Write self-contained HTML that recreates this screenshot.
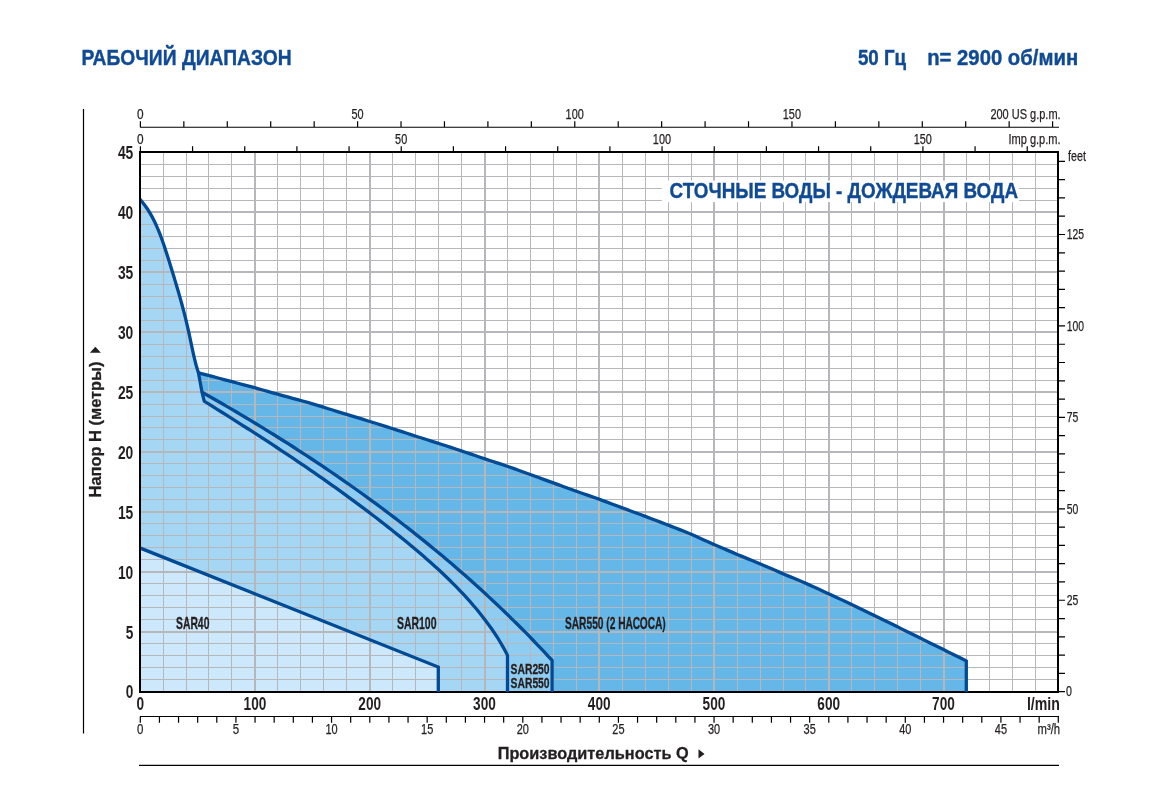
<!DOCTYPE html>
<html lang="ru"><head><meta charset="utf-8"><title>Рабочий диапазон</title>
<style>html,body{margin:0;padding:0;background:#fff}body{width:1167px;height:793px;overflow:hidden}svg{display:block}text{font-family:"Liberation Sans",sans-serif}</style>
</head><body>
<svg width="1167" height="793" viewBox="0 0 1167 793">
<rect width="1167" height="793" fill="#fff"/>
<clipPath id="plot"><rect x="141" y="152" width="917" height="540.8"/></clipPath>
<path d="M202 392.2L202 392.2L206.88 394.95L211.75 397.72L216.61 400.5L221.46 403.29L226.31 406.1L231.15 408.93L235.98 411.77L240.81 414.62L245.63 417.49L250.43 420.37L255.23 423.27L260.03 426.18L264.81 429.11L269.58 432.05L274.35 435.01L279.1 437.99L283.85 440.98L288.58 443.98L293.31 447L298.02 450.04L302.73 453.09L307.42 456.16L312.11 459.25L316.78 462.35L321.45 465.47L326.1 468.6L330.74 471.75L335.37 474.92L339.99 478.1L344.59 481.3L349.18 484.52L353.77 487.75L358.34 491L362.89 494.27L367.44 497.55L371.97 500.86L376.48 504.18L380.99 507.51L385.48 510.87L389.96 514.24L394.42 517.63L398.87 521.03L403.31 524.46L407.73 527.9L412.14 531.36L416.53 534.84L420.91 538.34L425.27 541.86L429.62 545.39L433.95 548.94L438.27 552.51L442.57 556.1L446.85 559.71L451.12 563.34L455.37 566.99L459.61 570.65L463.83 574.34L468.03 578.04L472.22 581.76L476.39 585.5L480.54 589.27L484.67 593.05L488.79 596.85L492.89 600.67L496.97 604.51L501.03 608.37L505.07 612.25L509.1 616.15L513.1 620.07L517.09 624.01L521.06 627.97L525.01 631.95L528.94 635.95L532.85 639.98L536.74 644.02L540.61 648.08L544.46 652.17L548.29 656.27L552.1 660.4L552.1 692L507.5 692L507.5 655.3L505.16 650.8L502.7 646.37L500.15 642L497.5 637.71L494.76 633.48L491.93 629.31L489.02 625.2L486.03 621.15L482.97 617.15L479.85 613.2L476.66 609.31L473.41 605.46L470.1 601.66L466.74 597.91L463.33 594.2L459.87 590.53L456.37 586.9L452.81 583.32L449.22 579.77L445.59 576.25L441.91 572.77L438.21 569.33L434.47 565.91L430.69 562.53L426.89 559.17L423.07 555.84L419.22 552.54L415.35 549.26L411.46 546.01L407.55 542.77L403.63 539.56L399.7 536.36L395.75 533.18L391.79 530.02L387.82 526.87L383.84 523.75L379.84 520.64L375.84 517.55L371.82 514.47L367.8 511.41L363.76 508.36L359.71 505.33L355.65 502.32L351.58 499.32L347.5 496.33L343.42 493.36L339.32 490.4L335.21 487.46L331.09 484.53L326.97 481.61L322.83 478.7L318.69 475.81L314.54 472.93L310.38 470.06L306.21 467.2L302.04 464.36L297.85 461.52L293.66 458.7L289.47 455.88L285.26 453.08L281.05 450.28L276.83 447.5L272.61 444.72L268.38 441.96L264.14 439.2L259.9 436.45L255.65 433.7L251.4 430.97L247.14 428.24L242.87 425.52L238.6 422.81L234.33 420.1L230.05 417.4L225.77 414.7L221.48 412.01L217.19 409.33L212.9 406.65L208.6 403.97L204.3 401.3L204.3 401.3Z" fill="#8ecdf1"/>
<path d="M140 692L140 198.6L139.45 198.6L142.45 202.16L145.15 205.71L147.61 209.27L149.84 212.82L151.87 216.38L153.74 219.93L155.46 223.49L157.06 227.04L158.56 230.6L159.97 234.15L161.3 237.71L162.58 241.26L163.82 244.82L165.01 248.37L166.18 251.93L167.32 255.48L168.44 259.04L169.56 262.59L170.66 266.15L171.75 269.7L172.84 273.26L173.92 276.81L174.99 280.37L176.05 283.92L177.11 287.48L178.15 291.03L179.18 294.59L180.19 298.14L181.18 301.7L182.15 305.25L183.1 308.81L184.03 312.36L184.93 315.92L185.81 319.47L186.66 323.03L187.48 326.58L188.29 330.14L189.07 333.69L189.84 337.25L190.59 340.8L191.34 344.36L192.1 347.91L192.86 351.47L193.65 355.02L194.47 358.58L195.35 362.13L196.29 365.69L197.32 369.24L198.45 372.8L202 392.2L204.3 401.3L208.6 403.97L212.9 406.65L217.19 409.33L221.48 412.01L225.77 414.7L230.05 417.4L234.33 420.1L238.6 422.81L242.87 425.52L247.14 428.24L251.4 430.97L255.65 433.7L259.9 436.45L264.14 439.2L268.38 441.96L272.61 444.72L276.83 447.5L281.05 450.28L285.26 453.08L289.47 455.88L293.66 458.7L297.85 461.52L302.04 464.36L306.21 467.2L310.38 470.06L314.54 472.93L318.69 475.81L322.83 478.7L326.97 481.61L331.09 484.53L335.21 487.46L339.32 490.4L343.42 493.36L347.5 496.33L351.58 499.32L355.65 502.32L359.71 505.33L363.76 508.36L367.8 511.41L371.82 514.47L375.84 517.55L379.84 520.64L383.84 523.75L387.82 526.87L391.79 530.02L395.75 533.18L399.7 536.36L403.63 539.56L407.55 542.77L411.46 546.01L415.35 549.26L419.22 552.54L423.07 555.84L426.89 559.17L430.69 562.53L434.47 565.91L438.21 569.33L441.91 572.77L445.59 576.25L449.22 579.77L452.81 583.32L456.37 586.9L459.87 590.53L463.33 594.2L466.74 597.91L470.1 601.66L473.41 605.46L476.66 609.31L479.85 613.2L482.97 617.15L486.03 621.15L489.02 625.2L491.93 629.31L494.76 633.48L497.5 637.71L500.15 642L502.7 646.37L505.16 650.8L507.5 655.3L507.5 692Z" fill="#a5d6f4"/>
<path d="M198.45 372.8L202 392.2L202 392.2L206.88 394.95L211.75 397.72L216.61 400.5L221.46 403.29L226.31 406.1L231.15 408.93L235.98 411.77L240.81 414.62L245.63 417.49L250.43 420.37L255.23 423.27L260.03 426.18L264.81 429.11L269.58 432.05L274.35 435.01L279.1 437.99L283.85 440.98L288.58 443.98L293.31 447L298.02 450.04L302.73 453.09L307.42 456.16L312.11 459.25L316.78 462.35L321.45 465.47L326.1 468.6L330.74 471.75L335.37 474.92L339.99 478.1L344.59 481.3L349.18 484.52L353.77 487.75L358.34 491L362.89 494.27L367.44 497.55L371.97 500.86L376.48 504.18L380.99 507.51L385.48 510.87L389.96 514.24L394.42 517.63L398.87 521.03L403.31 524.46L407.73 527.9L412.14 531.36L416.53 534.84L420.91 538.34L425.27 541.86L429.62 545.39L433.95 548.94L438.27 552.51L442.57 556.1L446.85 559.71L451.12 563.34L455.37 566.99L459.61 570.65L463.83 574.34L468.03 578.04L472.22 581.76L476.39 585.5L480.54 589.27L484.67 593.05L488.79 596.85L492.89 600.67L496.97 604.51L501.03 608.37L505.07 612.25L509.1 616.15L513.1 620.07L517.09 624.01L521.06 627.97L525.01 631.95L528.94 635.95L532.85 639.98L536.74 644.02L540.61 648.08L544.46 652.17L548.29 656.27L552.1 660.4L552.1 692L966.3 692L966.3 660.9L961.63 658.59L956.96 656.28L952.3 653.97L947.64 651.66L942.98 649.35L938.33 647.04L933.68 644.73L929.03 642.43L924.38 640.12L919.73 637.81L915.08 635.51L910.44 633.21L905.8 630.91L901.15 628.61L896.51 626.32L891.87 624.03L887.23 621.75L882.58 619.47L877.94 617.2L873.3 614.93L868.65 612.68L864.01 610.43L859.36 608.2L854.71 605.98L850.06 603.77L845.4 601.57L840.75 599.38L836.09 597.2L831.43 595.03L826.76 592.88L822.09 590.74L817.42 588.61L812.74 586.49L808.06 584.38L803.38 582.3L798.69 580.28L793.99 578.32L789.29 576.37L784.59 574.4L779.88 572.37L775.16 570.33L770.44 568.3L765.71 566.27L760.98 564.25L756.24 562.26L751.49 560.3L746.74 558.35L741.99 556.39L737.23 554.41L732.47 552.39L727.7 550.37L722.92 548.32L718.14 546.28L713.36 544.23L708.57 542.1L703.78 539.9L698.98 537.68L694.18 535.54L689.37 533.53L684.56 531.59L679.74 529.66L674.92 527.76L670.1 525.87L665.27 524L660.44 522.14L655.6 520.29L650.76 518.46L645.92 516.63L641.07 514.82L636.22 513.01L631.37 511.2L626.51 509.4L621.65 507.6L616.79 505.8L611.92 503.97L607.05 502.14L602.18 500.33L597.3 498.55L592.42 496.83L587.54 495.13L582.66 493.44L577.77 491.76L572.88 490.07L567.99 488.3L563.09 486.49L558.2 484.66L553.3 482.87L548.4 481.1L543.51 479.34L538.61 477.57L533.72 475.81L528.83 474.04L523.94 472.25L519.05 470.45L514.16 468.67L509.28 466.94L504.4 465.28L499.52 463.66L494.64 462.07L489.77 460.48L484.89 458.86L480.02 457.22L475.15 455.56L470.29 453.9L465.42 452.24L460.55 450.6L455.68 448.98L450.81 447.38L445.94 445.79L441.07 444.21L436.19 442.62L431.31 441.07L426.42 439.54L421.53 438.01L416.64 436.46L411.74 434.89L406.84 433.27L401.92 431.66L397.01 430.06L392.08 428.47L387.15 426.89L382.21 425.32L377.27 423.77L372.32 422.24L367.36 420.72L362.4 419.2L357.43 417.67L352.46 416.14L347.48 414.62L342.51 413.1L337.52 411.56L332.54 410.01L327.55 408.46L322.56 406.91L317.57 405.39L312.58 403.89L307.58 402.43L302.59 401.02L297.6 399.65L292.6 398.29L287.61 396.92L282.62 395.56L277.63 394.19L272.64 392.81L267.66 391.42L262.68 390.03L257.7 388.62L252.73 387.21L247.76 385.85L242.8 384.53L237.84 383.23L232.89 381.92L227.94 380.59L223.01 379.29L218.08 378L213.16 376.71L208.25 375.43L203.34 374.15L198.45 372.8Z" fill="#64b7e7"/>
<path d="M140 548L438.3 667L438.3 692L140 692Z" fill="#cce8fa"/>
<path d="M163.5 152V692M186.5 152V692M208.5 152V692M231.5 152V692M277.5 152V692M300.5 152V692M323.5 152V692M346.5 152V692M392.5 152V692M415.5 152V692M438.5 152V692M461.5 152V692M507.5 152V692M530.5 152V692M553.5 152V692M576.5 152V692M622.5 152V692M645.5 152V692M668.5 152V692M691.5 152V692M737.5 152V692M760.5 152V692M783.5 152V692M805.5 152V692M851.5 152V692M874.5 152V692M897.5 152V692M920.5 152V692M966.5 152V692M989.5 152V692M1012.5 152V692M1035.5 152V692M140 679.5H1058M140 667.5H1058M140 655.5H1058M140 643.5H1058M140 619.5H1058M140 607.5H1058M140 595.5H1058M140 583.5H1058M140 559.5H1058M140 547.5H1058M140 535.5H1058M140 523.5H1058M140 499.5H1058M140 487.5H1058M140 475.5H1058M140 463.5H1058M140 439.5H1058M140 427.5H1058M140 416.5H1058M140 404.5H1058M140 380.5H1058M140 368.5H1058M140 356.5H1058M140 344.5H1058M140 320.5H1058M140 308.5H1058M140 296.5H1058M140 284.5H1058M140 260.5H1058M140 248.5H1058M140 236.5H1058M140 224.5H1058M140 200.5H1058M140 188.5H1058M140 176.5H1058M140 164.5H1058" stroke="#b6b7bb" stroke-width="1" fill="none"/>
<path d="M255 152V692M370 152V692M485 152V692M599 152V692M714 152V692M829 152V692M944 152V692M140 632H1058M140 572H1058M140 512H1058M140 452H1058M140 392H1058M140 332H1058M140 272H1058M140 212H1058" stroke="#b6b7bb" stroke-width="2" fill="none"/>
<rect x="661.8" y="180.6" width="357.2" height="21.5" fill="#fff"/>
<rect x="140" y="152" width="918" height="540" fill="none" stroke="#000" stroke-width="2"/>
<path clip-path="url(#plot)" d="M139.45 198.6L142.45 202.16L145.15 205.71L147.61 209.27L149.84 212.82L151.87 216.38L153.74 219.93L155.46 223.49L157.06 227.04L158.56 230.6L159.97 234.15L161.3 237.71L162.58 241.26L163.82 244.82L165.01 248.37L166.18 251.93L167.32 255.48L168.44 259.04L169.56 262.59L170.66 266.15L171.75 269.7L172.84 273.26L173.92 276.81L174.99 280.37L176.05 283.92L177.11 287.48L178.15 291.03L179.18 294.59L180.19 298.14L181.18 301.7L182.15 305.25L183.1 308.81L184.03 312.36L184.93 315.92L185.81 319.47L186.66 323.03L187.48 326.58L188.29 330.14L189.07 333.69L189.84 337.25L190.59 340.8L191.34 344.36L192.1 347.91L192.86 351.47L193.65 355.02L194.47 358.58L195.35 362.13L196.29 365.69L197.32 369.24L198.45 372.8L202 392.2L204.3 401.3L208.6 403.97L212.9 406.65L217.19 409.33L221.48 412.01L225.77 414.7L230.05 417.4L234.33 420.1L238.6 422.81L242.87 425.52L247.14 428.24L251.4 430.97L255.65 433.7L259.9 436.45L264.14 439.2L268.38 441.96L272.61 444.72L276.83 447.5L281.05 450.28L285.26 453.08L289.47 455.88L293.66 458.7L297.85 461.52L302.04 464.36L306.21 467.2L310.38 470.06L314.54 472.93L318.69 475.81L322.83 478.7L326.97 481.61L331.09 484.53L335.21 487.46L339.32 490.4L343.42 493.36L347.5 496.33L351.58 499.32L355.65 502.32L359.71 505.33L363.76 508.36L367.8 511.41L371.82 514.47L375.84 517.55L379.84 520.64L383.84 523.75L387.82 526.87L391.79 530.02L395.75 533.18L399.7 536.36L403.63 539.56L407.55 542.77L411.46 546.01L415.35 549.26L419.22 552.54L423.07 555.84L426.89 559.17L430.69 562.53L434.47 565.91L438.21 569.33L441.91 572.77L445.59 576.25L449.22 579.77L452.81 583.32L456.37 586.9L459.87 590.53L463.33 594.2L466.74 597.91L470.1 601.66L473.41 605.46L476.66 609.31L479.85 613.2L482.97 617.15L486.03 621.15L489.02 625.2L491.93 629.31L494.76 633.48L497.5 637.71L500.15 642L502.7 646.37L505.16 650.8L507.5 655.3L507.5 692" fill="none" stroke="#004a96" stroke-width="3.3" stroke-linejoin="miter" stroke-linecap="butt"/>
<path clip-path="url(#plot)" d="M202 392.2L206.88 394.95L211.75 397.72L216.61 400.5L221.46 403.29L226.31 406.1L231.15 408.93L235.98 411.77L240.81 414.62L245.63 417.49L250.43 420.37L255.23 423.27L260.03 426.18L264.81 429.11L269.58 432.05L274.35 435.01L279.1 437.99L283.85 440.98L288.58 443.98L293.31 447L298.02 450.04L302.73 453.09L307.42 456.16L312.11 459.25L316.78 462.35L321.45 465.47L326.1 468.6L330.74 471.75L335.37 474.92L339.99 478.1L344.59 481.3L349.18 484.52L353.77 487.75L358.34 491L362.89 494.27L367.44 497.55L371.97 500.86L376.48 504.18L380.99 507.51L385.48 510.87L389.96 514.24L394.42 517.63L398.87 521.03L403.31 524.46L407.73 527.9L412.14 531.36L416.53 534.84L420.91 538.34L425.27 541.86L429.62 545.39L433.95 548.94L438.27 552.51L442.57 556.1L446.85 559.71L451.12 563.34L455.37 566.99L459.61 570.65L463.83 574.34L468.03 578.04L472.22 581.76L476.39 585.5L480.54 589.27L484.67 593.05L488.79 596.85L492.89 600.67L496.97 604.51L501.03 608.37L505.07 612.25L509.1 616.15L513.1 620.07L517.09 624.01L521.06 627.97L525.01 631.95L528.94 635.95L532.85 639.98L536.74 644.02L540.61 648.08L544.46 652.17L548.29 656.27L552.1 660.4L552.1 692" fill="none" stroke="#004a96" stroke-width="3.3" stroke-linejoin="miter" stroke-linecap="butt"/>
<path clip-path="url(#plot)" d="M198.45 372.8L203.34 374.15L208.25 375.43L213.16 376.71L218.08 378L223.01 379.29L227.94 380.59L232.89 381.92L237.84 383.23L242.8 384.53L247.76 385.85L252.73 387.21L257.7 388.62L262.68 390.03L267.66 391.42L272.64 392.81L277.63 394.19L282.62 395.56L287.61 396.92L292.6 398.29L297.6 399.65L302.59 401.02L307.58 402.43L312.58 403.89L317.57 405.39L322.56 406.91L327.55 408.46L332.54 410.01L337.52 411.56L342.51 413.1L347.48 414.62L352.46 416.14L357.43 417.67L362.4 419.2L367.36 420.72L372.32 422.24L377.27 423.77L382.21 425.32L387.15 426.89L392.08 428.47L397.01 430.06L401.92 431.66L406.84 433.27L411.74 434.89L416.64 436.46L421.53 438.01L426.42 439.54L431.31 441.07L436.19 442.62L441.07 444.21L445.94 445.79L450.81 447.38L455.68 448.98L460.55 450.6L465.42 452.24L470.29 453.9L475.15 455.56L480.02 457.22L484.89 458.86L489.77 460.48L494.64 462.07L499.52 463.66L504.4 465.28L509.28 466.94L514.16 468.67L519.05 470.45L523.94 472.25L528.83 474.04L533.72 475.81L538.61 477.57L543.51 479.34L548.4 481.1L553.3 482.87L558.2 484.66L563.09 486.49L567.99 488.3L572.88 490.07L577.77 491.76L582.66 493.44L587.54 495.13L592.42 496.83L597.3 498.55L602.18 500.33L607.05 502.14L611.92 503.97L616.79 505.8L621.65 507.6L626.51 509.4L631.37 511.2L636.22 513.01L641.07 514.82L645.92 516.63L650.76 518.46L655.6 520.29L660.44 522.14L665.27 524L670.1 525.87L674.92 527.76L679.74 529.66L684.56 531.59L689.37 533.53L694.18 535.54L698.98 537.68L703.78 539.9L708.57 542.1L713.36 544.23L718.14 546.28L722.92 548.32L727.7 550.37L732.47 552.39L737.23 554.41L741.99 556.39L746.74 558.35L751.49 560.3L756.24 562.26L760.98 564.25L765.71 566.27L770.44 568.3L775.16 570.33L779.88 572.37L784.59 574.4L789.29 576.37L793.99 578.32L798.69 580.28L803.38 582.3L808.06 584.38L812.74 586.49L817.42 588.61L822.09 590.74L826.76 592.88L831.43 595.03L836.09 597.2L840.75 599.38L845.4 601.57L850.06 603.77L854.71 605.98L859.36 608.2L864.01 610.43L868.65 612.68L873.3 614.93L877.94 617.2L882.58 619.47L887.23 621.75L891.87 624.03L896.51 626.32L901.15 628.61L905.8 630.91L910.44 633.21L915.08 635.51L919.73 637.81L924.38 640.12L929.03 642.43L933.68 644.73L938.33 647.04L942.98 649.35L947.64 651.66L952.3 653.97L956.96 656.28L961.63 658.59L966.3 660.9L966.3 692" fill="none" stroke="#004a96" stroke-width="3.3" stroke-linejoin="miter" stroke-linecap="butt"/>
<path clip-path="url(#plot)" d="M140 548L438.3 667L438.3 692" fill="none" stroke="#004a96" stroke-width="3.3" stroke-linejoin="miter" stroke-linecap="butt"/>
<path d="M83.5 109V733.5" stroke="#000" stroke-width="1.2" fill="none"/>
<path d="M139 765.4H1059" stroke="#000" stroke-width="1.2" fill="none"/>
<path d="M140 127.25H1059M140.4 127.25V121.3M183.84 127.25V121.3M227.28 127.25V121.3M270.71 127.25V121.3M314.15 127.25V121.3M357.59 127.25V121.3M401.03 127.25V121.3M444.46 127.25V121.3M487.9 127.25V121.3M531.34 127.25V121.3M574.78 127.25V121.3M618.21 127.25V121.3M661.65 127.25V121.3M705.09 127.25V121.3M748.53 127.25V121.3M791.96 127.25V121.3M835.4 127.25V121.3M878.84 127.25V121.3M922.28 127.25V121.3M965.71 127.25V121.3M1009.15 127.25V121.3M1052.59 127.25V121.3" stroke="#000" stroke-width="1.2" fill="none"/>
<path d="M140.4 152V146.2M192.57 152V146.2M244.73 152V146.2M296.9 152V146.2M349.07 152V146.2M401.23 152V146.2M453.4 152V146.2M505.56 152V146.2M557.73 152V146.2M609.9 152V146.2M662.06 152V146.2M714.23 152V146.2M766.4 152V146.2M818.56 152V146.2M870.73 152V146.2M922.9 152V146.2M975.06 152V146.2M1027.23 152V146.2" stroke="#000" stroke-width="1.2" fill="none"/>
<path d="M140 716.5H1059M140.3 716.5V722.8M159.43 716.5V722.8M178.55 716.5V722.8M197.68 716.5V722.8M216.8 716.5V722.8M235.93 716.5V722.8M255.05 716.5V722.8M274.18 716.5V722.8M293.3 716.5V722.8M312.43 716.5V722.8M331.55 716.5V722.8M350.68 716.5V722.8M369.8 716.5V722.8M388.93 716.5V722.8M408.05 716.5V722.8M427.18 716.5V722.8M446.3 716.5V722.8M465.42 716.5V722.8M484.55 716.5V722.8M503.68 716.5V722.8M522.8 716.5V722.8M541.92 716.5V722.8M561.05 716.5V722.8M580.17 716.5V722.8M599.3 716.5V722.8M618.42 716.5V722.8M637.55 716.5V722.8M656.67 716.5V722.8M675.8 716.5V722.8M694.92 716.5V722.8M714.05 716.5V722.8M733.17 716.5V722.8M752.3 716.5V722.8M771.42 716.5V722.8M790.55 716.5V722.8M809.67 716.5V722.8M828.8 716.5V722.8M847.92 716.5V722.8M867.05 716.5V722.8M886.17 716.5V722.8M905.3 716.5V722.8M924.42 716.5V722.8M943.55 716.5V722.8M962.67 716.5V722.8M981.8 716.5V722.8M1000.92 716.5V722.8M1020.05 716.5V722.8M1039.17 716.5V722.8M1058.3 716.5V722.8" stroke="#000" stroke-width="1.2" fill="none"/>
<path d="M1058 691.7H1065M1058 673.41H1065M1058 655.12H1065M1058 636.84H1065M1058 618.55H1065M1058 600.26H1065M1058 581.97H1065M1058 563.68H1065M1058 545.4H1065M1058 527.11H1065M1058 508.82H1065M1058 490.53H1065M1058 472.24H1065M1058 453.96H1065M1058 435.67H1065M1058 417.38H1065M1058 399.09H1065M1058 380.8H1065M1058 362.52H1065M1058 344.23H1065M1058 325.94H1065M1058 307.65H1065M1058 289.36H1065M1058 271.08H1065M1058 252.79H1065M1058 234.5H1065M1058 216.21H1065M1058 197.92H1065M1058 179.64H1065M1058 161.35H1065" stroke="#000" stroke-width="1.2" fill="none"/>
<text x="81.4" y="64.85" font-size="21.6" font-weight="bold" text-anchor="start" fill="#104a94" textLength="210.3" lengthAdjust="spacingAndGlyphs" stroke="#104a94" stroke-width="0.4" stroke-linejoin="round">РАБОЧИЙ ДИАПАЗОН</text>
<text x="857.9" y="64.75" font-size="21.6" font-weight="bold" text-anchor="start" fill="#104a94" textLength="48.2" lengthAdjust="spacingAndGlyphs" stroke="#104a94" stroke-width="0.4" stroke-linejoin="round">50 Гц</text>
<text x="927.2" y="64.75" font-size="21.6" font-weight="bold" text-anchor="start" fill="#104a94" textLength="151" lengthAdjust="spacingAndGlyphs" stroke="#104a94" stroke-width="0.4" stroke-linejoin="round">n= 2900 об/мин</text>
<text x="669.6" y="197.85" font-size="22.0" font-weight="bold" text-anchor="start" fill="#104a94" textLength="348.4" lengthAdjust="spacingAndGlyphs" stroke="#104a94" stroke-width="0.4" stroke-linejoin="round">СТОЧНЫЕ ВОДЫ - ДОЖДЕВАЯ ВОДА</text>
<text x="497.7" y="758.5" font-size="16.2" font-weight="bold" text-anchor="start" fill="#231f20" textLength="191" lengthAdjust="spacingAndGlyphs" stroke="#231f20" stroke-width="0.3" stroke-linejoin="round">Производительность Q</text>
<path d="M698.5 749.3L704.5 753.95L698.5 758.6Z" fill="#231f20"/>
<g transform="translate(100.7 497.4) rotate(-90)">
<text x="0" y="0" font-size="17" font-weight="bold" text-anchor="start" fill="#231f20" textLength="136" lengthAdjust="spacingAndGlyphs" stroke="#231f20" stroke-width="0.3" stroke-linejoin="round">Напор H (метры)</text>
</g>
<path d="M89.9 352.7L95.35 346.7L100.9 352.7Z" fill="#231f20"/>
<text x="176" y="628.85" font-size="16.2" font-weight="bold" text-anchor="start" fill="#231f20" textLength="33.4" lengthAdjust="spacingAndGlyphs" stroke="#231f20" stroke-width="0.3" stroke-linejoin="round">SAR40</text>
<text x="396.9" y="628.85" font-size="16.2" font-weight="bold" text-anchor="start" fill="#231f20" textLength="39.6" lengthAdjust="spacingAndGlyphs" stroke="#231f20" stroke-width="0.3" stroke-linejoin="round">SAR100</text>
<text x="564.9" y="628.6" font-size="16.2" font-weight="bold" text-anchor="start" fill="#231f20" textLength="100.8" lengthAdjust="spacingAndGlyphs" stroke="#231f20" stroke-width="0.3" stroke-linejoin="round">SAR550 (2 НАСОСА)</text>
<text x="510.6" y="673.6" font-size="15.2" font-weight="bold" text-anchor="start" fill="#231f20" textLength="39" lengthAdjust="spacingAndGlyphs" stroke="#231f20" stroke-width="0.3" stroke-linejoin="round">SAR250</text>
<text x="510.6" y="687.5" font-size="15.2" font-weight="bold" text-anchor="start" fill="#231f20" textLength="39" lengthAdjust="spacingAndGlyphs" stroke="#231f20" stroke-width="0.3" stroke-linejoin="round">SAR550</text>
<text x="136.4" y="709.85" font-size="17.6" font-weight="bold" text-anchor="start" fill="#231f20" textLength="7.6" lengthAdjust="spacingAndGlyphs">0</text>
<text x="243.6" y="709.85" font-size="17.6" font-weight="bold" text-anchor="start" fill="#231f20" textLength="22.7" lengthAdjust="spacingAndGlyphs">100</text>
<text x="358.35" y="709.85" font-size="17.6" font-weight="bold" text-anchor="start" fill="#231f20" textLength="22.7" lengthAdjust="spacingAndGlyphs">200</text>
<text x="473.1" y="709.85" font-size="17.6" font-weight="bold" text-anchor="start" fill="#231f20" textLength="22.7" lengthAdjust="spacingAndGlyphs">300</text>
<text x="587.85" y="709.85" font-size="17.6" font-weight="bold" text-anchor="start" fill="#231f20" textLength="22.7" lengthAdjust="spacingAndGlyphs">400</text>
<text x="702.6" y="709.85" font-size="17.6" font-weight="bold" text-anchor="start" fill="#231f20" textLength="22.7" lengthAdjust="spacingAndGlyphs">500</text>
<text x="817.35" y="709.85" font-size="17.6" font-weight="bold" text-anchor="start" fill="#231f20" textLength="22.7" lengthAdjust="spacingAndGlyphs">600</text>
<text x="932.1" y="709.85" font-size="17.6" font-weight="bold" text-anchor="start" fill="#231f20" textLength="22.7" lengthAdjust="spacingAndGlyphs">700</text>
<text x="1026.9" y="709.85" font-size="17.6" font-weight="bold" text-anchor="start" fill="#231f20" textLength="33" lengthAdjust="spacingAndGlyphs">l/min</text>
<text x="125.7" y="697.6" font-size="17.6" font-weight="bold" text-anchor="start" fill="#231f20" textLength="7.6" lengthAdjust="spacingAndGlyphs">0</text>
<text x="125.7" y="638.7" font-size="17.6" font-weight="bold" text-anchor="start" fill="#231f20" textLength="7.6" lengthAdjust="spacingAndGlyphs">5</text>
<text x="117.9" y="578.7" font-size="17.6" font-weight="bold" text-anchor="start" fill="#231f20" textLength="15.4" lengthAdjust="spacingAndGlyphs">10</text>
<text x="117.9" y="518.7" font-size="17.6" font-weight="bold" text-anchor="start" fill="#231f20" textLength="15.4" lengthAdjust="spacingAndGlyphs">15</text>
<text x="117.9" y="458.7" font-size="17.6" font-weight="bold" text-anchor="start" fill="#231f20" textLength="15.4" lengthAdjust="spacingAndGlyphs">20</text>
<text x="117.9" y="398.7" font-size="17.6" font-weight="bold" text-anchor="start" fill="#231f20" textLength="15.4" lengthAdjust="spacingAndGlyphs">25</text>
<text x="117.9" y="338.7" font-size="17.6" font-weight="bold" text-anchor="start" fill="#231f20" textLength="15.4" lengthAdjust="spacingAndGlyphs">30</text>
<text x="117.9" y="278.7" font-size="17.6" font-weight="bold" text-anchor="start" fill="#231f20" textLength="15.4" lengthAdjust="spacingAndGlyphs">35</text>
<text x="117.9" y="218.7" font-size="17.6" font-weight="bold" text-anchor="start" fill="#231f20" textLength="15.4" lengthAdjust="spacingAndGlyphs">40</text>
<text x="117.9" y="158.7" font-size="17.6" font-weight="bold" text-anchor="start" fill="#231f20" textLength="15.4" lengthAdjust="spacingAndGlyphs">45</text>
<text x="137.1" y="733.8" font-size="14.4" font-weight="normal" text-anchor="start" fill="#231f20" textLength="6.4" lengthAdjust="spacingAndGlyphs" stroke="#231f20" stroke-width="0.25" stroke-linejoin="round">0</text>
<text x="232.73" y="733.8" font-size="14.4" font-weight="normal" text-anchor="start" fill="#231f20" textLength="6.4" lengthAdjust="spacingAndGlyphs" stroke="#231f20" stroke-width="0.25" stroke-linejoin="round">5</text>
<text x="325.45" y="733.8" font-size="14.4" font-weight="normal" text-anchor="start" fill="#231f20" textLength="12.2" lengthAdjust="spacingAndGlyphs" stroke="#231f20" stroke-width="0.25" stroke-linejoin="round">10</text>
<text x="421.07" y="733.8" font-size="14.4" font-weight="normal" text-anchor="start" fill="#231f20" textLength="12.2" lengthAdjust="spacingAndGlyphs" stroke="#231f20" stroke-width="0.25" stroke-linejoin="round">15</text>
<text x="516.7" y="733.8" font-size="14.4" font-weight="normal" text-anchor="start" fill="#231f20" textLength="12.2" lengthAdjust="spacingAndGlyphs" stroke="#231f20" stroke-width="0.25" stroke-linejoin="round">20</text>
<text x="612.32" y="733.8" font-size="14.4" font-weight="normal" text-anchor="start" fill="#231f20" textLength="12.2" lengthAdjust="spacingAndGlyphs" stroke="#231f20" stroke-width="0.25" stroke-linejoin="round">25</text>
<text x="707.95" y="733.8" font-size="14.4" font-weight="normal" text-anchor="start" fill="#231f20" textLength="12.2" lengthAdjust="spacingAndGlyphs" stroke="#231f20" stroke-width="0.25" stroke-linejoin="round">30</text>
<text x="803.57" y="733.8" font-size="14.4" font-weight="normal" text-anchor="start" fill="#231f20" textLength="12.2" lengthAdjust="spacingAndGlyphs" stroke="#231f20" stroke-width="0.25" stroke-linejoin="round">35</text>
<text x="899.2" y="733.8" font-size="14.4" font-weight="normal" text-anchor="start" fill="#231f20" textLength="12.2" lengthAdjust="spacingAndGlyphs" stroke="#231f20" stroke-width="0.25" stroke-linejoin="round">40</text>
<text x="994.82" y="733.8" font-size="14.4" font-weight="normal" text-anchor="start" fill="#231f20" textLength="12.2" lengthAdjust="spacingAndGlyphs" stroke="#231f20" stroke-width="0.25" stroke-linejoin="round">45</text>
<text x="1037.5" y="733.8" font-size="14.4" font-weight="normal" text-anchor="start" fill="#231f20" textLength="22.6" lengthAdjust="spacingAndGlyphs" stroke="#231f20" stroke-width="0.25" stroke-linejoin="round">m³/h</text>
<text x="137" y="118.8" font-size="14.4" font-weight="normal" text-anchor="start" fill="#231f20" textLength="6.6" lengthAdjust="spacingAndGlyphs" stroke="#231f20" stroke-width="0.25" stroke-linejoin="round">0</text>
<text x="351.44" y="118.8" font-size="14.4" font-weight="normal" text-anchor="start" fill="#231f20" textLength="12.1" lengthAdjust="spacingAndGlyphs" stroke="#231f20" stroke-width="0.25" stroke-linejoin="round">50</text>
<text x="565.58" y="118.8" font-size="14.4" font-weight="normal" text-anchor="start" fill="#231f20" textLength="18.2" lengthAdjust="spacingAndGlyphs" stroke="#231f20" stroke-width="0.25" stroke-linejoin="round">100</text>
<text x="782.76" y="118.8" font-size="14.4" font-weight="normal" text-anchor="start" fill="#231f20" textLength="18.2" lengthAdjust="spacingAndGlyphs" stroke="#231f20" stroke-width="0.25" stroke-linejoin="round">150</text>
<text x="990.4" y="118.8" font-size="14.4" font-weight="normal" text-anchor="start" fill="#231f20" textLength="70.2" lengthAdjust="spacingAndGlyphs" stroke="#231f20" stroke-width="0.25" stroke-linejoin="round">200 US g.p.m.</text>
<text x="137" y="143.75" font-size="14.4" font-weight="normal" text-anchor="start" fill="#231f20" textLength="6.6" lengthAdjust="spacingAndGlyphs" stroke="#231f20" stroke-width="0.25" stroke-linejoin="round">0</text>
<text x="395.08" y="143.75" font-size="14.4" font-weight="normal" text-anchor="start" fill="#231f20" textLength="12.1" lengthAdjust="spacingAndGlyphs" stroke="#231f20" stroke-width="0.25" stroke-linejoin="round">50</text>
<text x="652.86" y="143.75" font-size="14.4" font-weight="normal" text-anchor="start" fill="#231f20" textLength="18.2" lengthAdjust="spacingAndGlyphs" stroke="#231f20" stroke-width="0.25" stroke-linejoin="round">100</text>
<text x="913.7" y="143.75" font-size="14.4" font-weight="normal" text-anchor="start" fill="#231f20" textLength="18.2" lengthAdjust="spacingAndGlyphs" stroke="#231f20" stroke-width="0.25" stroke-linejoin="round">150</text>
<text x="1008.4" y="143.75" font-size="14.4" font-weight="normal" text-anchor="start" fill="#231f20" textLength="52.2" lengthAdjust="spacingAndGlyphs" stroke="#231f20" stroke-width="0.25" stroke-linejoin="round">Imp g.p.m.</text>
<text x="1065.9" y="695.7" font-size="13.8" font-weight="normal" text-anchor="start" fill="#231f20" textLength="5.9" lengthAdjust="spacingAndGlyphs" stroke="#231f20" stroke-width="0.25" stroke-linejoin="round">0</text>
<text x="1066.8" y="605.16" font-size="13.8" font-weight="normal" text-anchor="start" fill="#231f20" textLength="11.6" lengthAdjust="spacingAndGlyphs" stroke="#231f20" stroke-width="0.25" stroke-linejoin="round">25</text>
<text x="1066.8" y="513.72" font-size="13.8" font-weight="normal" text-anchor="start" fill="#231f20" textLength="11.6" lengthAdjust="spacingAndGlyphs" stroke="#231f20" stroke-width="0.25" stroke-linejoin="round">50</text>
<text x="1066.8" y="422.28" font-size="13.8" font-weight="normal" text-anchor="start" fill="#231f20" textLength="11.6" lengthAdjust="spacingAndGlyphs" stroke="#231f20" stroke-width="0.25" stroke-linejoin="round">75</text>
<text x="1066.8" y="330.84" font-size="13.8" font-weight="normal" text-anchor="start" fill="#231f20" textLength="17.3" lengthAdjust="spacingAndGlyphs" stroke="#231f20" stroke-width="0.25" stroke-linejoin="round">100</text>
<text x="1066.8" y="239.4" font-size="13.8" font-weight="normal" text-anchor="start" fill="#231f20" textLength="17.3" lengthAdjust="spacingAndGlyphs" stroke="#231f20" stroke-width="0.25" stroke-linejoin="round">125</text>
<text x="1068.1" y="160.8" font-size="14.4" font-weight="normal" text-anchor="start" fill="#231f20" textLength="18" lengthAdjust="spacingAndGlyphs" stroke="#231f20" stroke-width="0.25" stroke-linejoin="round">feet</text>
</svg></body></html>
